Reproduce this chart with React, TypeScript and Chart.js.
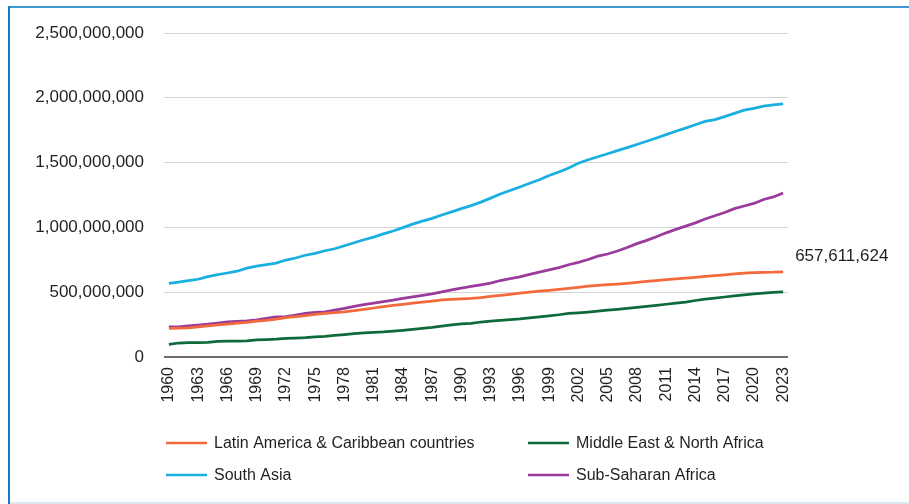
import React, { useEffect, useRef } from "react";
import { Chart, registerables } from "chart.js";

Chart.register(...registerables);

// ---------- DATA (population, millions) ----------
const YEARS = [
  1960, 1961, 1962, 1963, 1964, 1965, 1966, 1967, 1968, 1969,
  1970, 1971, 1972, 1973, 1974, 1975, 1976, 1977, 1978, 1979,
  1980, 1981, 1982, 1983, 1984, 1985, 1986, 1987, 1988, 1989,
  1990, 1991, 1992, 1993, 1994, 1995, 1996, 1997, 1998, 1999,
  2000, 2001, 2002, 2003, 2004, 2005, 2006, 2007, 2008, 2009,
  2010, 2011, 2012, 2013, 2014, 2015, 2016, 2017, 2018, 2019,
  2020, 2021, 2022, 2023,
];

const TICK_YEARS = [
  1960, 1963, 1966, 1969, 1972, 1975, 1978, 1981, 1984, 1987, 1990,
  1993, 1996, 1999, 2002, 2005, 2008, 2011, 2014, 2017, 2020, 2023,
];

const LATIN_AMERICA = [
  220, 222, 224, 232, 240, 247, 253, 262, 268, 276,
  283, 293, 303, 312, 320, 328, 336, 342, 349, 358,
  368, 378, 388, 398, 406, 415, 424, 432, 440, 445,
  448, 452, 458, 467, 476, 484, 492, 500, 508, 515,
  522, 530, 538, 546, 553, 558, 563, 569, 576, 583,
  590, 597, 603, 609, 615, 622, 628, 634, 641, 647,
  651, 653, 654, 657.611624,
];

const MIDDLE_EAST = [
  98, 108, 111, 111, 112, 120, 122, 123, 124, 133,
  135, 137, 143, 146, 150, 156, 160, 166, 173, 180,
  186, 190, 194, 200, 206, 213, 220, 228, 238, 248,
  255, 260, 270, 276, 282, 288, 294, 302, 310, 318,
  326, 336, 341, 347, 354, 361, 368, 375, 382, 390,
  398, 407, 415, 424, 436, 446, 455, 463, 471, 479,
  487, 493, 499, 503,
];

const SOUTH_ASIA = [
  568, 578, 589, 600, 620, 635, 648, 662, 686, 701,
  712, 724, 748, 764, 785, 800, 820, 835, 858, 882,
  905, 925, 950, 972, 998, 1025, 1048, 1070, 1096, 1120,
  1145, 1168, 1195, 1226, 1258, 1285, 1312, 1340, 1368, 1400,
  1428, 1458, 1495, 1522, 1545, 1568, 1592, 1616, 1640, 1665,
  1690, 1716, 1742, 1766, 1792, 1818, 1832, 1855, 1880, 1905,
  1918, 1935, 1945, 1954,
];

const SUB_SAHARAN = [
  232, 232, 240, 246, 253, 262, 271, 275, 279, 287,
  298, 310, 312, 324, 336, 344, 349, 362, 375, 390,
  404, 416, 428, 439, 452, 464, 476, 487, 502, 518,
  532, 545, 557, 570, 590, 605, 618, 638, 655, 672,
  690, 712, 730, 752, 778, 795, 818, 845, 875, 900,
  928, 958, 985, 1010, 1035, 1065, 1090, 1115, 1145, 1165,
  1185, 1215, 1235, 1265,
];

const SERIES_NAMES = [
  "Latin America & Caribbean countries",
  "Middle East & North Africa",
  "South Asia",
  "Sub-Saharan Africa",
];
const SERIES_VALUES = [LATIN_AMERICA, MIDDLE_EAST, SOUTH_ASIA, SUB_SAHARAN];
const SERIES_COLORS = ["#f26a3b", "#0f6a3a", "#19afe1", "#9a3b9c"];

const Y_MAX = 2500000000;
const Y_STEP = 500000000;
const UNIT = 1000000;

// ---------- STYLE ----------
const FONT = '"Liberation Sans", Arial, Helvetica, sans-serif';
const TEXT = "#231f20";
const W = 909;
const H = 504;

export default function App() {
  const ref = useRef<HTMLCanvasElement | null>(null);

  useEffect(() => {
    const canvas = ref.current;
    if (!canvas) return;

    const legendPos = [
      { x: 166, y: 443 },
      { x: 528, y: 443 },
      { x: 166, y: 475 },
      { x: 528, y: 475 },
    ];

    const overlay = {
      id: "overlay",
      afterDraw(chart: any) {
        const ctx = chart.ctx as CanvasRenderingContext2D;
        ctx.save();
        // legend
        ctx.font = `16px ${FONT}`;
        ctx.textBaseline = "middle";
        ctx.textAlign = "left";
        chart.data.datasets.forEach((ds: any, i: number) => {
          const p = legendPos[i];
          ctx.strokeStyle = ds.borderColor;
          ctx.lineWidth = 2.5;
          ctx.beginPath();
          ctx.moveTo(p.x, p.y);
          ctx.lineTo(p.x + 41, p.y);
          ctx.stroke();
          ctx.fillStyle = TEXT;
          ctx.fillText(ds.label, p.x + 48, p.y + 1);
        });
        // data label on last Latin America point
        const meta = chart.getDatasetMeta(0);
        const last = meta.data[meta.data.length - 1];
        const vals = chart.data.datasets[0].data;
        const v = vals[vals.length - 1];
        ctx.font = `17px ${FONT}`;
        ctx.fillStyle = TEXT;
        ctx.fillText(Math.round(v).toLocaleString("en-US"), last.x + 12, last.y - 15);
        ctx.restore();
      },
    };

    const chart = new Chart(canvas, {
      type: "line",
      data: {
        labels: YEARS.map(String),
        datasets: SERIES_VALUES.map((vals, i) => ({
          label: SERIES_NAMES[i],
          data: vals.map((v) => v * UNIT),
          borderColor: SERIES_COLORS[i],
          backgroundColor: SERIES_COLORS[i],
          borderWidth: 2.75,
          pointRadius: 0,
          tension: 0,
          fill: false,
        })),
      },
      options: {
        responsive: false,
        animation: false,
        devicePixelRatio: 1,
        layout: { padding: { left: 0, right: 121, top: 33, bottom: 0 } },
        plugins: {
          legend: { display: false },
          tooltip: { enabled: false },
          title: { display: false },
        },
        scales: {
          x: {
            offset: true,
            grid: { display: false, drawTicks: false },
            border: { display: false },
            ticks: {
              autoSkip: false,
              minRotation: 90,
              maxRotation: 90,
              padding: 10,
              color: TEXT,
              font: { family: FONT, size: 16 },
              callback: (_v: any, i: number) =>
                TICK_YEARS.includes(YEARS[i]) ? String(YEARS[i]) : "",
            },
            afterFit(scale: any) {
              scale.height = 147;
            },
          },
          y: {
            min: 0,
            max: Y_MAX,
            border: { display: false },
            grid: {
              drawTicks: false,
              color: (c: any) => (c.tick && c.tick.value === 0 ? "#6d6d6d" : "#d3d3d3"),
              lineWidth: (c: any) => (c.tick && c.tick.value === 0 ? 2 : 1),
            },
            ticks: {
              stepSize: Y_STEP,
              padding: 20,
              color: TEXT,
              font: { family: FONT, size: 17 },
              callback: (v: any) => Number(v).toLocaleString("en-US"),
            },
            afterFit(scale: any) {
              scale.width = 164;
            },
          },
        },
      },
      plugins: [overlay],
    } as any);

    return () => chart.destroy();
  }, []);

  return (
    <div style={{ position: "absolute", left: 0, top: 0, width: W, height: H, background: "#fff" }}>
      <div style={{ position: "absolute", left: 8, top: 6, width: 901, height: 2, background: "#3d97d3" }} />
      <div style={{ position: "absolute", left: 8, top: 6, width: 2, height: 498, background: "#1c76c2" }} />
      <div style={{ position: "absolute", left: 10, top: 502, width: 899, height: 2, background: "#dce7f0" }} />
      <canvas
        ref={ref}
        width={W}
        height={H}
        style={{ position: "absolute", left: 0, top: 0, width: W, height: H, display: "block" }}
      />
    </div>
  );
}
